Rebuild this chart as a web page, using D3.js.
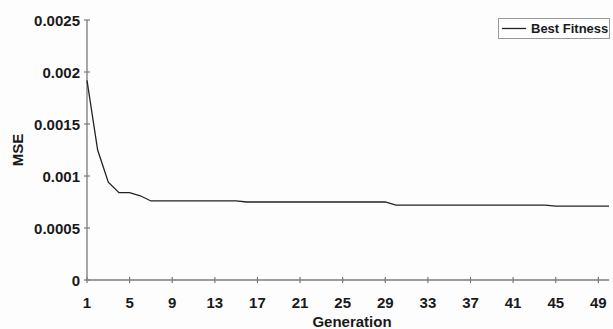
<!DOCTYPE html>
<html>
<head>
<meta charset="utf-8">
<script src="https://cdn.jsdelivr.net/npm/d3@7"></script>
<style>
  body { margin: 0; background: #fdfdfd; }
  text { font-family: "Liberation Sans", Arial, sans-serif; font-weight: bold; fill: #1a1a1a; }
</style>
</head>
<body>
<svg id="chart" width="613" height="329"></svg>
<script>
// data
generations = [1,2,3,4,5,6,7,8,9,10,11,12,13,14,15,16,17,18,19,20,21,22,23,24,25,
  26,27,28,29,30,31,32,33,34,35,36,37,38,39,40,41,42,43,44,45,46,47,48,49,50];
bestFitness = [0.00192,0.00125,0.00094,0.00084,0.00084,0.00081,0.00076,0.00076,0.00076,0.00076,
  0.00076,0.00076,0.00076,0.00076,0.00076,0.00075,0.00075,0.00075,0.00075,0.00075,
  0.00075,0.00075,0.00075,0.00075,0.00075,0.00075,0.00075,0.00075,0.00075,0.00072,
  0.00072,0.00072,0.00072,0.00072,0.00072,0.00072,0.00072,0.00072,0.00072,0.00072,
  0.00072,0.00072,0.00072,0.00072,0.00071,0.00071,0.00071,0.00071,0.00071,0.00071];
xTicks = [1,5,9,13,17,21,25,29,33,37,41,45,49];
yTicks = [0,0.0005,0.001,0.0015,0.002,0.0025];
yTickLabels = ["0","0.0005","0.001","0.0015","0.002","0.0025"];

var svg = d3.select("#chart");
var x = d3.scaleLinear().domain([1,50]).range([87,609]);
var y = d3.scaleLinear().domain([0,0.0025]).range([280,20]);

// y axis
svg.append("line").attr("x1",87).attr("x2",87).attr("y1",y(0.0025)).attr("y2",y(0))
  .attr("stroke","#7a7a7a").attr("stroke-width",1.3);
svg.selectAll(".yt").data(yTicks).enter().append("line")
  .attr("x1",84).attr("x2",90).attr("y1",d=>y(d)).attr("y2",d=>y(d))
  .attr("stroke","#7a7a7a").attr("stroke-width",1.2);
svg.selectAll(".yl").data(yTicks).enter().append("text")
  .attr("x",80).attr("y",d=>y(d)+5.5).attr("text-anchor","end")
  .style("font-size","15px")
  .text((d,i)=>yTickLabels[i]);

// x axis
svg.append("line").attr("x1",x(1)).attr("x2",x(50)).attr("y1",y(0)).attr("y2",y(0))
  .attr("stroke","#7a7a7a").attr("stroke-width",1.3);
svg.selectAll(".xt").data(xTicks).enter().append("line")
  .attr("x1",d=>x(d)).attr("x2",d=>x(d)).attr("y1",y(0)-3).attr("y2",y(0)+3)
  .attr("stroke","#7a7a7a").attr("stroke-width",1.2);
svg.selectAll(".xl").data(xTicks).enter().append("text")
  .attr("x",d=>x(d)).attr("y",307.5).attr("text-anchor","middle")
  .style("font-size","15px")
  .text(d=>d);

// axis titles
svg.append("text").attr("x",(x(1)+x(50))/2+4).attr("y",327).attr("text-anchor","middle")
  .style("font-size","15px").text("Generation");
svg.append("text").attr("transform","translate(23,150) rotate(-90)").attr("text-anchor","middle")
  .style("font-size","15px").text("MSE");

// series
var line = d3.line().x((d,i)=>x(generations[i])).y(d=>y(d));
svg.append("path").datum(bestFitness).attr("d",line)
  .attr("fill","none").attr("stroke","#222").attr("stroke-width",1.3);

// legend
svg.append("rect").attr("x",498.5).attr("y",18.5).attr("width",111).attr("height",20)
  .attr("fill","#fff").attr("stroke","#999");
svg.append("line").attr("x1",502).attr("x2",526).attr("y1",28.5).attr("y2",28.5)
  .attr("stroke","#222").attr("stroke-width",1.3);
svg.append("text").attr("x",531).attr("y",33).style("font-size","13px").text("Best Fitness");
</script>
</body>
</html>
